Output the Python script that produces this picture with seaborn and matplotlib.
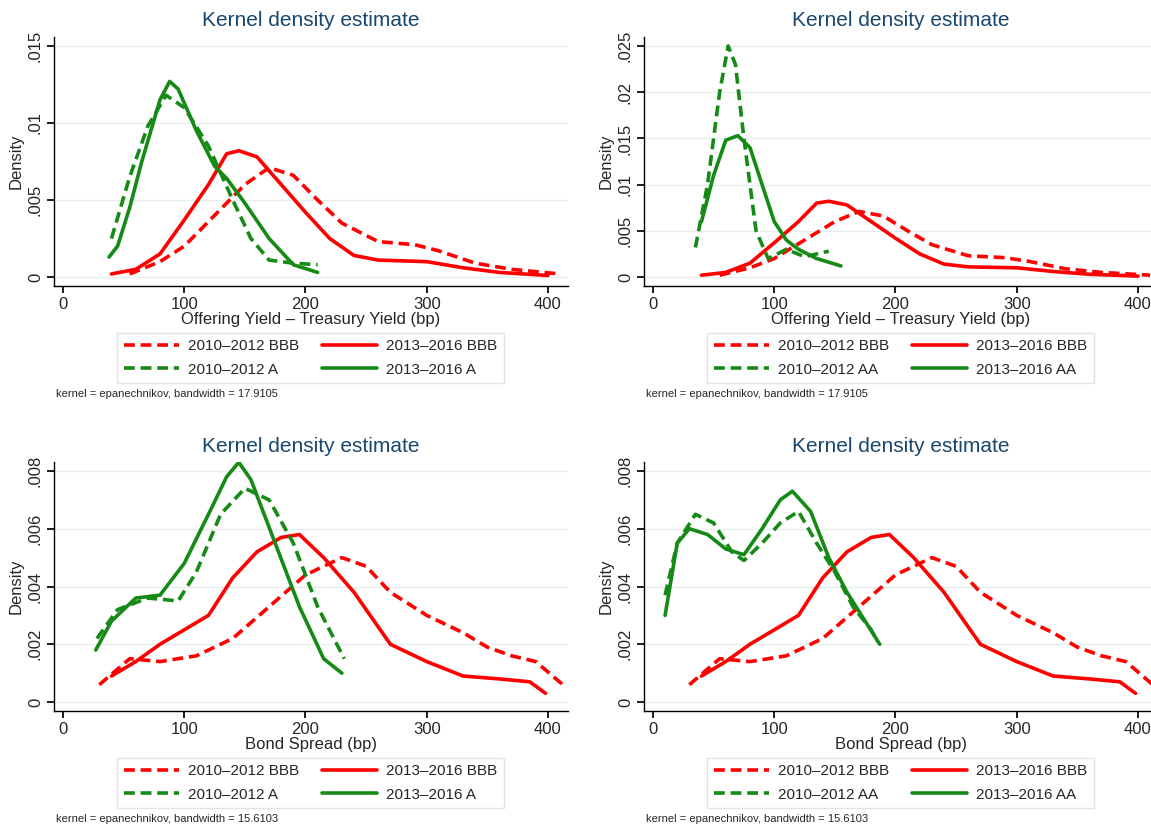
import numpy as np
import pandas as pd
import seaborn as sns
import matplotlib
matplotlib.use("Agg")
import matplotlib.pyplot as plt
from matplotlib.lines import Line2D

# ---- data ----
oy_bbb10_x = [55, 80, 100, 125, 150, 170, 190, 210, 230, 260, 290, 310, 340, 370, 410]
oy_bbb10_y = [.0002, .001, .002, .004, .006, .0071, .0066, .005, .0035, .0023, .0021, .0017, .0009, .0005, .0002]
oy_bbb13_x = [40, 60, 80, 100, 120, 135, 145, 160, 180, 200, 220, 240, 260, 300, 330, 360, 400]
oy_bbb13_y = [.0002, .0005, .0015, .0037, .006, .008, .0082, .0078, .006, .0042, .0025, .0014, .0011, .001, .0006, .0003, .0001]
oy_a10_x = [40, 55, 70, 85, 100, 120, 140, 155, 170, 190, 210]
oy_a10_y = [.0025, .0065, .0098, .0118, .011, .0085, .005, .0025, .0011, .0009, .0008]
oy_a13_x = [38, 45, 55, 65, 80, 88, 95, 110, 125, 135, 150, 170, 190, 210]
oy_a13_y = [.0013, .002, .0045, .0075, .0115, .0127, .0122, .0095, .0072, .0064, .0048, .0025, .0008, .0003]
oy_aa10_x = [35, 45, 55, 62, 68, 75, 85, 95, 110, 125, 145]
oy_aa10_y = [.0032, .01, .02, .025, .023, .015, .005, .002, .003, .0022, .0028]
oy_aa13_x = [40, 50, 60, 70, 80, 90, 100, 110, 120, 135, 155]
oy_aa13_y = [.006, .011, .0148, .0153, .014, .01, .006, .004, .003, .002, .0012]

bs_bbb10_x = [30, 55, 80, 110, 140, 170, 200, 230, 250, 270, 300, 330, 350, 370, 390, 415]
bs_bbb10_y = [.0006, .0015, .0014, .0016, .0022, .0033, .0044, .005, .0047, .0038, .003, .0024, .0019, .0016, .0014, .0005]
bs_bbb13_x = [40, 60, 80, 100, 120, 140, 160, 180, 195, 215, 240, 270, 300, 330, 360, 385, 398]
bs_bbb13_y = [.0009, .0014, .002, .0025, .003, .0043, .0052, .0057, .0058, .005, .0038, .002, .0014, .0009, .0008, .0007, .0003]
bs_a10_x = [28, 45, 70, 95, 110, 130, 150, 170, 190, 210, 232]
bs_a10_y = [.0022, .0032, .0036, .0035, .0045, .0065, .0074, .007, .0055, .0033, .0015]
bs_a13_x = [27, 40, 60, 80, 100, 120, 135, 145, 155, 175, 195, 215, 230]
bs_a13_y = [.0018, .0028, .0036, .0037, .0048, .0065, .0078, .0083, .0077, .0055, .0033, .0015, .001]
bs_aa10_x = [10, 20, 35, 50, 65, 75, 90, 105, 120, 135, 150, 165, 180, 185]
bs_aa10_y = [.0037, .0055, .0065, .0062, .0052, .0049, .0055, .0062, .0066, .0055, .0045, .0033, .0025, .0021]
bs_aa13_x = [10, 20, 30, 45, 60, 75, 90, 105, 115, 130, 145, 160, 175, 187]
bs_aa13_y = [.003, .0055, .006, .0058, .0053, .0051, .006, .007, .0073, .0066, .005, .0038, .0028, .002]

x_ticks = [0, 100, 200, 300, 400]
panels = [
    dict(curves=[(oy_bbb10_x, oy_bbb10_y), (oy_bbb13_x, oy_bbb13_y), (oy_a10_x, oy_a10_y), (oy_a13_x, oy_a13_y)],
         grade="A", xlabel="Offering Yield \u2013 Treasury Yield (bp)", yt=[0, .005, .01, .015],
         ytl=["0", ".005", ".01", ".015"], note="kernel = epanechnikov, bandwidth = 17.9105"),
    dict(curves=[(oy_bbb10_x, oy_bbb10_y), (oy_bbb13_x, oy_bbb13_y), (oy_aa10_x, oy_aa10_y), (oy_aa13_x, oy_aa13_y)],
         grade="AA", xlabel="Offering Yield \u2013 Treasury Yield (bp)", yt=[0, .005, .01, .015, .02, .025],
         ytl=["0", ".005", ".01", ".015", ".02", ".025"], note="kernel = epanechnikov, bandwidth = 17.9105"),
    dict(curves=[(bs_bbb10_x, bs_bbb10_y), (bs_bbb13_x, bs_bbb13_y), (bs_a10_x, bs_a10_y), (bs_a13_x, bs_a13_y)],
         grade="A", xlabel="Bond Spread (bp)", yt=[0, .002, .004, .006, .008],
         ytl=["0", ".002", ".004", ".006", ".008"], note="kernel = epanechnikov, bandwidth = 15.6103"),
    dict(curves=[(bs_bbb10_x, bs_bbb10_y), (bs_bbb13_x, bs_bbb13_y), (bs_aa10_x, bs_aa10_y), (bs_aa13_x, bs_aa13_y)],
         grade="AA", xlabel="Bond Spread (bp)", yt=[0, .002, .004, .006, .008],
         ytl=["0", ".002", ".004", ".006", ".008"], note="kernel = epanechnikov, bandwidth = 15.6103"),
]

sns.set_theme(style="white")
plt.rcParams['font.family'] = ['Liberation Sans', 'DejaVu Sans']

fig = plt.figure(figsize=(11.51, 8.26), dpi=100)
W, H = 1151, 826
RED, GREEN = "#ff0000", "#168a16"
styles = [(RED, (0, (3, 1.6))), (RED, "-"), (GREEN, (0, (3, 1.6))), (GREEN, "-")]

for i, p in enumerate(panels):
    dx = 590 * (i % 2)
    dy = 425 * (i // 2)
    left, top, right, bottom = 54 + dx, 37 + dy, 568 + dx, 286 + dy
    ax = fig.add_axes([left / W, 1 - bottom / H, (right - left) / W, (bottom - top) / H])
    for (xs, ys), (c, ls) in zip(p["curves"], styles):
        sns.lineplot(x=xs, y=ys, ax=ax, color=c, linestyle=ls, lw=2.6, sort=False)
    top_t = p["yt"][-1]
    ax.set_ylim(-top_t * 9 / 232, top_t * 241 / 232)
    ax.set_xlim(-7.4, 416.5)
    ax.set_xticks(x_ticks)
    ax.set_xticklabels([str(t) for t in x_ticks], fontsize=12)
    ax.set_yticks(p["yt"])
    ax.set_yticklabels(p["ytl"], fontsize=12, rotation=90, va="center")
    ax.grid(axis="y", color="#e6eeee", lw=1)
    ax.spines["top"].set_visible(False)
    ax.spines["right"].set_visible(False)
    for s in ["left", "bottom"]:
        ax.spines[s].set_color("black")
        ax.spines[s].set_linewidth(1)
    ax.tick_params(axis="both", length=5, color="black", direction="out", pad=3, bottom=True, left=True)
    ax.set_xlabel(p["xlabel"], fontsize=12, labelpad=0)
    ax.set_ylabel("Density", fontsize=12, labelpad=3)
    fig.text((left + right) / 2 / W, 1 - (21 + dy) / H, "Kernel density estimate",
             ha="center", va="center", fontsize=15, color="#1a476f")
    g = p["grade"]
    labels = ["2010\u20132012 BBB", "2010\u20132012 " + g, "2013\u20132016 BBB", "2013\u20132016 " + g]
    hs = [Line2D([], [], color=styles[k][0], linestyle=styles[k][1], lw=2.6) for k in (0, 2, 1, 3)]
    leg = fig.legend(hs, labels, ncol=2, loc="center", bbox_to_anchor=((120 + 501) / 2 / W + dx / W, 1 - (358 + dy) / H),
                     fontsize=11, frameon=True, fancybox=False, edgecolor="#dddddd", handlelength=3.6,
                     columnspacing=1.5, labelspacing=0.6, borderpad=0.45, handletextpad=0.6)
    leg.get_frame().set_linewidth(1)
    fig.text((56 + dx) / W, 1 - (394 + dy) / H, p["note"], fontsize=8, va="center", ha="left")

fig.savefig("out.png", dpi=100, facecolor="white")
